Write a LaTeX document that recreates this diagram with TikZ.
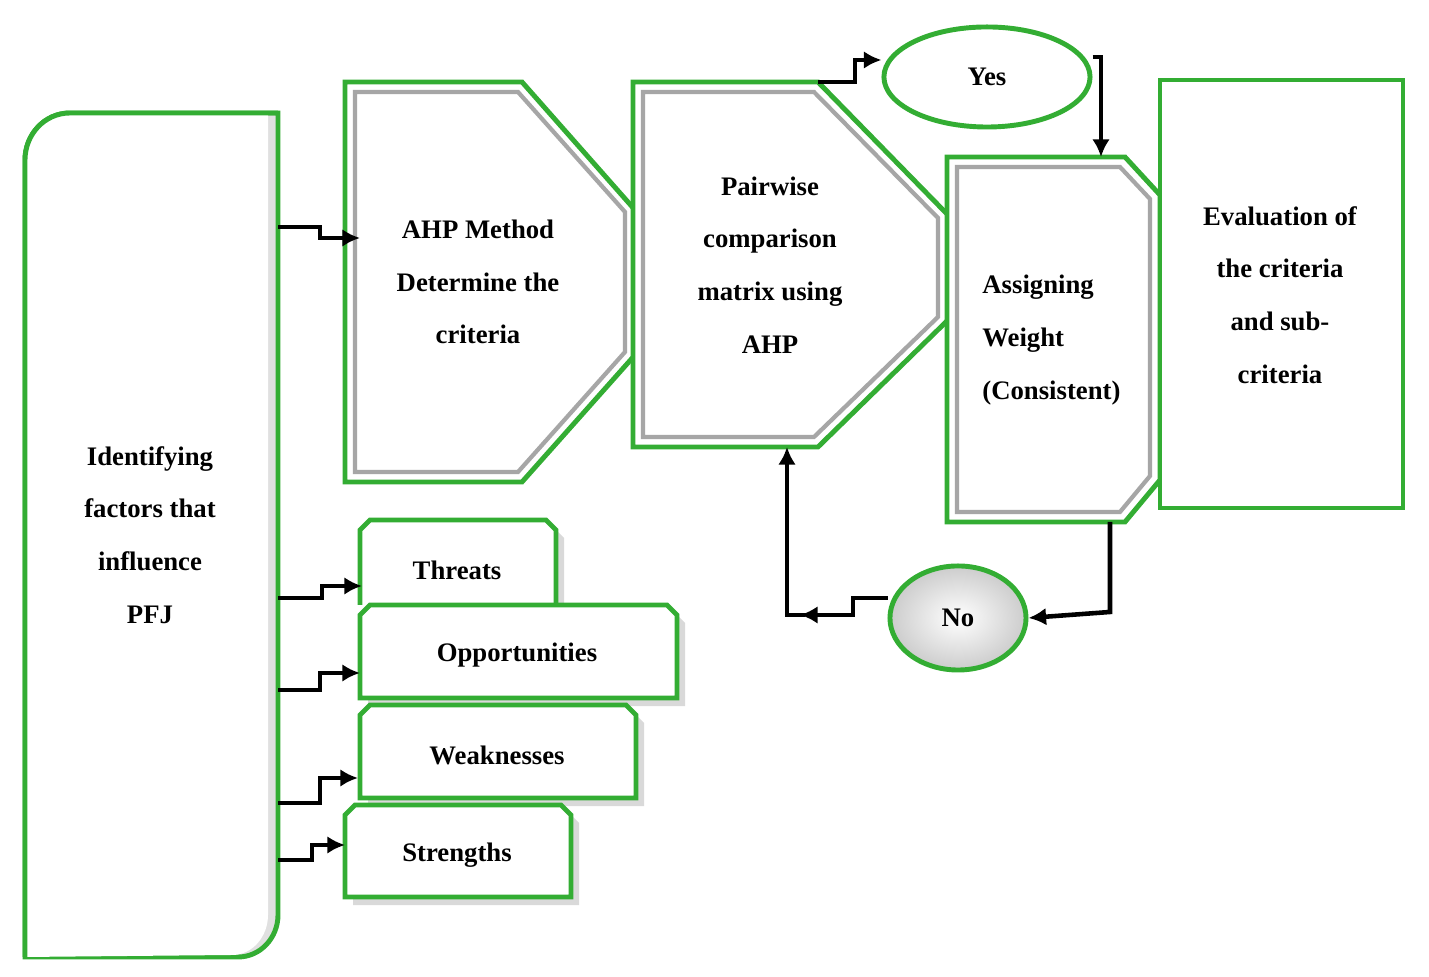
\documentclass[tikz,border=0pt]{standalone}
\usepackage{fontspec}
\setmainfont{Liberation Serif}
\usetikzlibrary{arrows.meta,shadows,shapes.geometric}
\tikzset{
  box/.style={draw=green!60!black!80, line width=1.4pt, fill=white},
  inner/.style={draw=black!35, line width=1.2pt},
  lbl/.style={font=\fontsize{7.6}{15}\selectfont\bfseries, align=center},
  link/.style={line width=1.3pt, -{Latex[length=5pt,width=5pt]}},
}
\begin{document}
\begin{tikzpicture}[x=0.01cm, y=-0.01cm]
\useasboundingbox (0,0) rectangle (1429,977);

% left box
\draw[box, fill=black!12] (25,957) -- (25,160) to[out=90,in=180] (70,113) -- (278,113) -- (278,915) to[out=-90,in=0] (238,957) -- cycle;
\draw[box, draw=none] (25,957) -- (25,160) to[out=90,in=180] (70,113) -- (268,113) -- (268,915) to[out=-90,in=0] (232,955) -- cycle;
\draw[green!60!black!80, line width=1.4pt] (25,957) -- (25,160) to[out=90,in=180] (70,113) -- (278,113);
\node[lbl] (pfj) at (150,535) {Identifying\\factors that\\influence\\PFJ};
\coordinate (pfjA) at (278,227);
\coordinate (pfjT) at (278,598);
\coordinate (pfjO) at (278,690);
\coordinate (pfjW) at (278,803);
\coordinate (pfjS) at (278,860);

% AHP
\draw[box] (345,82) -- (522,82) -- (635,210) -- (635,355) -- (522,482) -- (345,482) -- cycle;
\draw[inner] (355,92) -- (518,92) -- (625,212) -- (625,352) -- (518,472) -- (355,472) -- cycle;
\node[lbl] (ahp) at (478,282) {AHP Method\\Determine the\\criteria};
\coordinate (ahpIn) at (360,238);

% pairwise
\draw[box] (633,82) -- (818,82) -- (948,215) -- (948,320) -- (818,447) -- (633,447) -- cycle;
\draw[inner] (643,92) -- (814,92) -- (938,218) -- (938,317) -- (814,437) -- (643,437) -- cycle;
\node[lbl] (pair) at (770,265) {Pairwise\\comparison\\matrix using\\AHP};
\coordinate (pairOut) at (818,82);
\coordinate (pairIn) at (787,447);

% assigning
\draw[box] (947,157) -- (1125,157) -- (1160,195) -- (1160,480) -- (1125,522) -- (947,522) -- cycle;
\draw[inner] (957,167) -- (1120,167) -- (1150,199) -- (1150,476) -- (1120,512) -- (957,512) -- cycle;
\node[lbl, align=left, anchor=west] (assign) at (970,340) {Assigning\\Weight\\(Consistent)};
\coordinate (assignIn) at (1101,157);
\coordinate (assignOut) at (1110,522);

% evaluation
\draw[box] (1160,80) rectangle (1403,508);
\node[lbl] (eval) at (1280,295) {Evaluation of\\the criteria\\and sub-\\criteria};

% yes / no
\node[ellipse, box, minimum width=2.06cm, minimum height=1.0cm, lbl] (yes) at (987,77) {Yes};
\node[ellipse, box, inner color=white, outer color=black!20, minimum width=1.36cm, minimum height=1.04cm, lbl] (no) at (958,618) {No};

% factors
\draw[box, drop shadow={opacity=0.3}] (360,605) -- (360,530) -- (370,520) -- (546,520) -- (556,530) -- (556,605);
\node[lbl] (thr) at (457,570) {Threats};
\draw[box, drop shadow={opacity=0.3}] (360,698) -- (360,615) -- (370,605) -- (667,605) -- (677,615) -- (677,698) -- cycle;
\node[lbl] (opp) at (517,655) {Opportunities};
\draw[box, drop shadow={opacity=0.3}] (360,798) -- (360,715) -- (370,705) -- (626,705) -- (636,715) -- (636,798) -- cycle;
\node[lbl] (weak) at (497,755) {Weaknesses};
\draw[box, drop shadow={opacity=0.3}] (345,897) -- (345,815) -- (355,805) -- (561,805) -- (571,815) -- (571,897) -- cycle;
\node[lbl] (str) at (457,855) {Strengths};

% connectors
\draw[link] (pfjA) -- (320,227) -- (320,238) -- (ahpIn);
\draw[link] (pfjT) -- (322,598) -- (322,586) -- (362,586);
\draw[link] (pfjO) -- (320,690) -- (320,673) -- (360,673);
\draw[link] (pfjW) -- (320,803) -- (320,778) -- (358,778);
\draw[link] (pfjS) -- (312,860) -- (312,845) -- (345,845);
\draw[link] (pairOut) -- (855,82) -- (855,60) -- (yes.west |- 0,60);
\draw[link] (yes.east |- 0,57) -- (1101,57) -- (assignIn);
\draw[link] (assignOut) -- (1110,612) -- (no.east);
\draw[link] (no.west |- 0,598) -- (853,598) -- (853,615) -- (800,615);
\draw[link] (805,615) -- (787,615) -- (pairIn);
\end{tikzpicture}
\end{document}
